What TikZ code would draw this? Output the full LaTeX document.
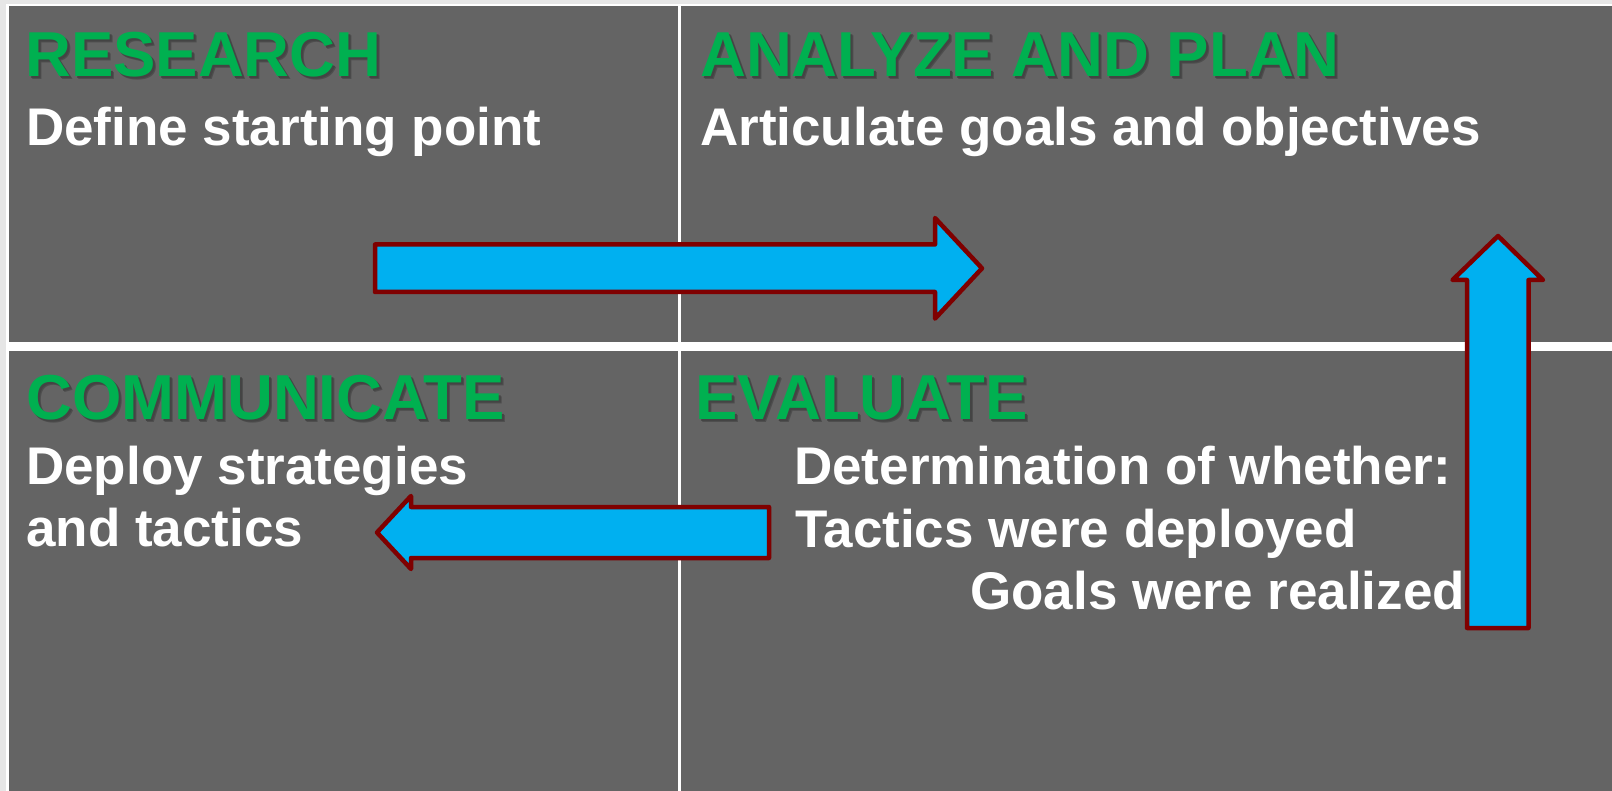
\documentclass[tikz,border=0pt]{standalone}
\usepackage{fontspec}
\setmainfont{Liberation Sans}
\definecolor{cellgray}{HTML}{646464}
\definecolor{edgegray}{HTML}{E6E6E6}
\definecolor{headgreen}{HTML}{00B050}
\definecolor{shadowgray}{HTML}{444444}
\definecolor{arrowblue}{HTML}{00B0F0}
\definecolor{arrowred}{HTML}{7F0000}
% green heading text over its own soft dark drop shadow
\newcommand\shadowedtext[1]{%
  \makebox[0pt][l]{\hspace{3pt}\raisebox{-3pt}{\textcolor{shadowgray!70!cellgray}{#1}}}%
  \makebox[0pt][l]{\hspace{2pt}\raisebox{-2pt}{\textcolor{shadowgray}{#1}}}%
  \textcolor{headgreen}{#1}}
\begin{document}
\begin{tikzpicture}[x=1pt,y=-1pt,
  cell/.style={fill=cellgray},
  heading/.style={anchor=base west, inner sep=0pt,
    font=\fontsize{63.5}{63.5}\selectfont\bfseries},
  body/.style={anchor=base west, inner sep=0pt, text=white,
    font=\fontsize{53}{53}\selectfont\bfseries},
  blockarrow/.style={fill=arrowblue, draw=arrowred, line width=4.5pt, line join=round}]

% page and framing strips
\useasboundingbox (0,0) rectangle (1612,791);
\fill[white] (0,0) rectangle (1612,791);
\fill[edgegray] (0,0) rectangle (6,791);
\fill[edgegray] (0,0) rectangle (1612,4);

% the four quadrants
\fill[cell] (9,6) rectangle (677.5,342.5);
\fill[cell] (681,6) rectangle (1612,342.5);
\fill[cell] (9,351) rectangle (677.5,791);
\fill[cell] (681,351) rectangle (1612,791);

% quadrant headings
\node[heading] (research) at (25,77) {\shadowedtext{RESEARCH}};
\node[heading] (analyze) at (700,77) {\shadowedtext{ANALYZE AND PLAN}};
\node[heading] (communicate) at (26,420) {\shadowedtext{COMMUNICATE}};
\node[heading] (evaluate) at (695,420) {\shadowedtext{EVALUATE}};

% quadrant descriptions
\node[body] (define) at (26,146) {Define starting point};
\node[body] (articulate) at (700,146) {Articulate goals and objectives};
\node[body] (deploy) at (26,484) {Deploy strategies};
\node[body] (tactics) at (26,546) {and tactics};
\node[body] (determine) at (794,484) {Determination of whether:};
\node[body] (deployed) at (795,547) {Tactics were deployed};
\node[body] (realized) at (970,609) {Goals were realized};

% block arrows between the phases
\draw[blockarrow] (375,244.5) -- (935,244.5) -- (935,218) -- (982,268.3)
  -- (935,318.6) -- (935,292) -- (375,292) -- cycle;
\draw[blockarrow] (769,507) -- (411,507) -- (411,496) -- (377,532.5)
  -- (411,569) -- (411,558) -- (769,558) -- cycle;
\draw[blockarrow] (1467,628) -- (1467,280) -- (1452.5,280) -- (1498,236)
  -- (1543,280) -- (1528.5,280) -- (1528.5,628) -- cycle;
\end{tikzpicture}
\end{document}
